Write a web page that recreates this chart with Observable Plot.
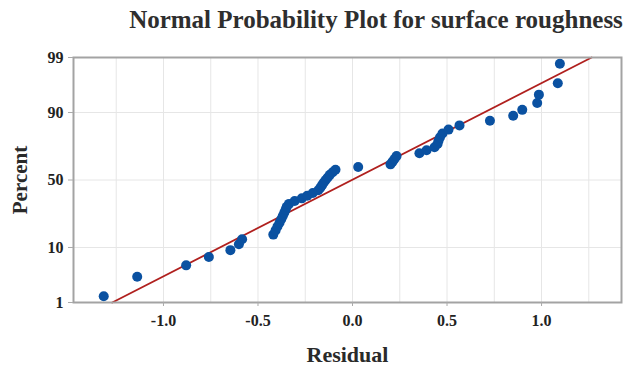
<!DOCTYPE html>
<html>
<head>
<meta charset="utf-8">
<script src="https://cdn.jsdelivr.net/npm/d3@7"></script>
<script src="https://cdn.jsdelivr.net/npm/@observablehq/plot@0.6"></script>
<style>
  html, body { margin: 0; padding: 0; background: #ffffff; }
  #wrap { width: 629px; height: 371px; position: relative; overflow: hidden; }
  #title { position: absolute; left: 0; top: 0; width: 629px; height: 40px; box-sizing: border-box; padding-left: 123px;
    text-align: center; font-family: "Liberation Serif", serif; font-weight: bold; font-size: 25px; line-height: 40px; color: #2e2e2e; white-space: nowrap; }
  #chart { position: absolute; left: 0; top: 40px; }
</style>
</head>
<body>
<div id="wrap">
  <div id="title">Normal Probability Plot for surface roughness</div>
  <div id="chart"></div>
</div>
<script>
// Residuals (sorted)
const residuals = [
  -1.316, -1.139, -0.880, -0.760, -0.646, -0.601, -0.584,
  -0.419, -0.407, -0.397, -0.386, -0.377, -0.369, -0.361, -0.354, -0.348, -0.336,
  -0.306, -0.268, -0.239, -0.210, -0.181, -0.170, -0.161, -0.152, -0.142, -0.131, -0.120, -0.105, -0.090,
  0.030, 0.201, 0.212, 0.222, 0.233,
  0.354, 0.392, 0.434, 0.450, 0.455, 0.463, 0.476, 0.508, 0.566,
  0.727, 0.850, 0.898, 0.977, 0.986, 1.086, 1.097
];
// Plotted percent of each point (median ranks)
const percents = [
  1.36, 3.31, 5.25, 7.20, 9.14, 11.09, 13.04,
  14.98, 16.93, 18.87, 20.82, 22.76, 24.71, 26.65, 28.60, 30.54, 32.49,
  34.44, 36.38, 38.33, 40.27, 42.22, 44.16, 46.11, 48.05, 50.00, 51.95, 53.89, 55.84, 57.78,
  59.73, 61.67, 63.62, 65.56, 67.51,
  69.46, 71.40, 73.35, 75.29, 77.24, 79.18, 81.13, 83.07, 85.02,
  86.96, 88.91, 90.86, 92.80, 94.75, 96.69, 98.64
];
// Fitted normal line (mean, standard deviation)
const fitMean = -0.003;
const fitSd = 0.545;
const fitPercents = [1, 99];
// Tick labels
const xTicks = [-1.0, -0.5, 0.0, 0.5, 1.0];
const xGrid = [-1.25, -1.0, -0.75, -0.5, -0.25, 0.0, 0.25, 0.5, 0.75, 1.0, 1.25];
const yTicks = [1, 10, 50, 90, 99];
const xDomain = [-1.476, 1.423];

// inverse standard normal CDF (probability scale)
function probit(p) {
  const a=[-3.969683028665376e+01,2.209460984245205e+02,-2.759285104469687e+02,1.383577518672690e+02,-3.066479806614716e+01,2.506628277459239e+00];
  const b=[-5.447609879822406e+01,1.615858368580409e+02,-1.556989798598866e+02,6.680131188771972e+01,-1.328068155288572e+01];
  const c=[-7.784894002430293e-03,-3.223964580411365e-01,-2.400758277161838e+00,-2.549732539343734e+00,4.374664141464968e+00,2.938163982698783e+00];
  const d=[7.784695709041462e-03,3.224671290700398e-01,2.445134137142996e+00,3.754408661907416e+00];
  const pl = 0.02425, ph = 1 - pl;
  let q, r;
  if (p < pl) { q = Math.sqrt(-2*Math.log(p)); return (((((c[0]*q+c[1])*q+c[2])*q+c[3])*q+c[4])*q+c[5])/((((d[0]*q+d[1])*q+d[2])*q+d[3])*q+1); }
  if (p <= ph) { q = p - 0.5; r = q*q; return (((((a[0]*r+a[1])*r+a[2])*r+a[3])*r+a[4])*r+a[5])*q/(((((b[0]*r+b[1])*r+b[2])*r+b[3])*r+b[4])*r+1); }
  q = Math.sqrt(-2*Math.log(1-p)); return -(((((c[0]*q+c[1])*q+c[2])*q+c[3])*q+c[4])*q+c[5])/((((d[0]*q+d[1])*q+d[2])*q+d[3])*q+1);
}

const points = residuals.map((r, i) => ({residual: r, percent: percents[i], z: probit(percents[i] / 100)}));
const fitLine = fitPercents.map(p => ({z: probit(p / 100), residual: fitMean + fitSd * probit(p / 100)}));
const yTickZ = yTicks.map(p => probit(p / 100));
const zDomain = [probit(0.01), probit(0.99)];

const font = "'Liberation Serif', serif";

const chart = Plot.plot({
  width: 629,
  height: 331,
  marginTop: 17,
  marginBottom: 69,
  marginLeft: 73,
  marginRight: 8,
  style: {fontFamily: font, fontSize: "16px", fontWeight: "bold", color: "#222", background: "#ffffff"},
  x: {domain: xDomain},
  y: {domain: zDomain},
  marks: [
    Plot.gridX(xGrid, {stroke: "#e6e6e6", strokeOpacity: 1, strokeWidth: 1}),
    Plot.gridY(yTickZ, {stroke: "#e6e6e6", strokeOpacity: 1, strokeWidth: 1}),
    Plot.line(fitLine, {x: "residual", y: "z", stroke: "#b0201e", strokeWidth: 1.8}),
    Plot.dot(points, {x: "residual", y: "z", r: 5, fill: "#0a51a1", stroke: "none"}),
    Plot.frame({stroke: "#a3a3a3", strokeWidth: 2}),
    Plot.axisX({ticks: xTicks, tickFormat: d => d.toFixed(1), tickSize: 4, tickPadding: 8, stroke: "#aaaaaa", fill: "#222", label: null, fontSize: 16}),
    Plot.axisY({ticks: yTickZ, tickFormat: (d, i) => String(yTicks[i]), tickSize: 5, tickPadding: 5, stroke: "#aaaaaa", fill: "#222", label: null, fontSize: 16}),
    Plot.text(["Residual"], {frameAnchor: "bottom", dy: 59, fontSize: 22, fill: "#2a2a2a", fontWeight: "bold"}),
    Plot.text(["Percent"], {frameAnchor: "left", textAnchor: "middle", dx: -53, rotate: -90, fontSize: 21, fill: "#2a2a2a", fontWeight: "bold"})
  ]
});
document.getElementById("chart").appendChild(chart);
</script>
</body>
</html>
